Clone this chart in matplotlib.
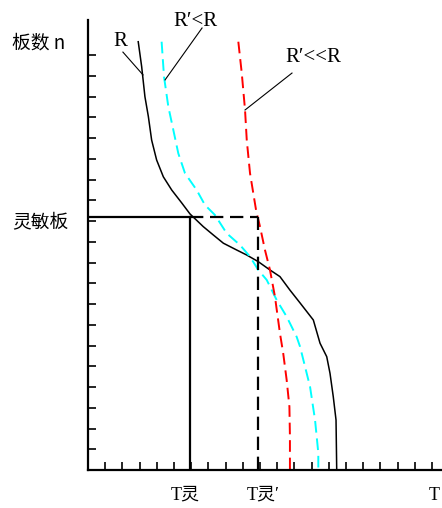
import matplotlib
matplotlib.use("Agg")
import matplotlib.pyplot as plt
import numpy as np

# ---- data (x in tick units, y = plate number n) ----
r_x = [2.92, 3.12, 3.31, 3.51, 3.70, 3.99, 4.38, 4.87, 5.45, 5.93, 6.70, 7.28, 7.87, 8.65, 9.23,
       9.90, 10.58, 11.16, 11.74, 12.33, 13.10, 13.49, 13.88, 14.07, 14.26, 14.42, 14.46]
r_y = [20.64, 19.44, 17.99, 17.03, 15.90, 14.94, 14.13, 13.49, 12.87, 12.34, 11.73, 11.33, 10.93,
       10.60, 10.36, 10.04, 9.64, 9.32, 8.67, 8.05, 7.23, 6.11, 5.46, 4.66, 3.53, 2.41, 0.0]

c_x = [4.28, 4.42, 4.67, 4.96, 5.25, 5.64, 6.32, 6.80, 7.38, 8.06, 8.84, 9.42, 9.90, 10.39, 10.97,
       11.55, 12.13, 12.33, 12.91, 13.20, 13.39, 13.39]
c_y = [20.64, 18.95, 17.51, 16.39, 15.26, 14.30, 13.49, 12.77, 12.29, 11.41, 10.84, 10.28, 9.64,
       9.16, 8.19, 7.39, 6.42, 5.94, 4.01, 2.41, 0.82, 0.0]

d_x = [8.74, 8.94, 9.13, 9.23, 9.42, 9.77, 10.0, 10.29, 10.58, 10.87, 11.16, 11.35, 11.55, 11.71,
       11.74, 11.74]
d_y = [20.64, 19.12, 17.35, 15.90, 14.30, 12.53, 11.73, 10.60, 9.64, 8.35, 6.59, 5.62, 4.34, 3.05,
       1.60, 0.0]

sens_n = 12.2
t_sens = 5.93
t_sens2 = 9.9

labels = ["R", "R\u2032<R", "R\u2032<<R"]
xlabels = ["T\u7075", "T\u7075\u2032", "T"]

W, H = 442, 508
fig = plt.figure(figsize=(W / 100, H / 100), dpi=100)
ax = fig.add_axes([88 / W, 38 / H, (W - 88) / W, 450 / H])
ax.set_xlim(0, (W - 88) / 17.2)
ax.set_ylim(0, 450 / 20.75)

for s in ["top", "right"]:
    ax.spines[s].set_visible(False)
for s in ["left", "bottom"]:
    ax.spines[s].set_linewidth(1.6)

ax.set_xticks(np.arange(1, 21))
ax.set_yticks(np.arange(1, 21))
ax.tick_params(direction="in", length=5.8, width=1.2, labelbottom=False, labelleft=False)

ax.plot(r_x, r_y, color="black", lw=1.1)
ax.plot(c_x, c_y, color="cyan", lw=1.4, dashes=(6, 3))
ax.plot(d_x, d_y, color="red", lw=1.4, dashes=(6, 3))

# sensitive plate guide lines
ax.plot([0, t_sens], [sens_n, sens_n], color="black", lw=1.6)
ax.plot([t_sens, t_sens], [0, sens_n], color="black", lw=1.6)
ax.plot([t_sens, t_sens2], [sens_n, sens_n], color="black", lw=1.6, dashes=(6, 3))
ax.plot([t_sens2, t_sens2], [0, sens_n], color="black", lw=1.6, dashes=(6, 3))

# leader lines
ax.plot([2.03, 3.20], [20.14, 19.04], color="black", lw=0.8, clip_on=False)
ax.plot([6.63, 4.48], [21.30, 18.80], color="black", lw=0.8, clip_on=False)
ax.plot([11.86, 9.13], [19.13, 17.35], color="black", lw=0.8, clip_on=False)

serif = ["Liberation Serif", "Noto Sans CJK SC"]
cjk = ["Noto Sans CJK SC", "DejaVu Sans"]

def ftext(x, y, s, **kw):
    fig.text(x / W, 1 - y / H, s, **kw)

ftext(113, 42, labels[0], family=serif, fontsize=15, ha="left", va="center")
ftext(173, 21, labels[1], family=serif, fontsize=15, ha="left", va="center")
ftext(285, 57, labels[2], family=serif, fontsize=15, ha="left", va="center")

ftext(12, 43, "\u677f\u6570 n", family=cjk, fontsize=13.5, ha="left", va="center")
ftext(12, 222, "\u7075\u654f\u677f", family=cjk, fontsize=13.5, ha="left", va="center")

ftext(185, 495, xlabels[0], family=serif, fontsize=13, ha="center", va="center")
ftext(263, 495, xlabels[1], family=serif, fontsize=13, ha="center", va="center")
ftext(429, 495, xlabels[2], family=serif, fontsize=13, ha="left", va="center")

fig.savefig("out.png", dpi=100)
